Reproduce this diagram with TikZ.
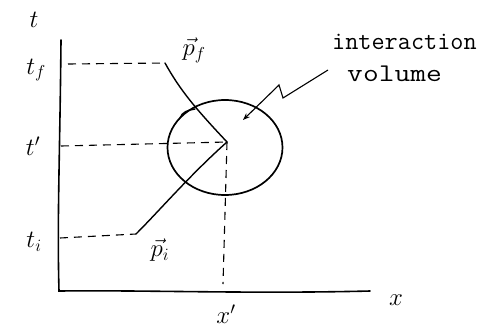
\documentclass[tikz,border=0pt]{standalone}
\usetikzlibrary{arrows.meta,shapes.geometric}
\begin{document}
\begin{tikzpicture}[x=1pt,y=-1pt,
  axis/.style={line width=1.6pt,line cap=round},
  guide/.style={line width=1.1pt,dash pattern=on 8pt off 6pt},
  track/.style={line width=1.4pt,line cap=round},
  lbl/.style={font=\fontsize{24}{28}\selectfont},
  note/.style={font=\fontsize{25.5}{28}\selectfont\ttfamily}]
\useasboundingbox (0,0) rectangle (484,330);
% axes
\coordinate (O) at (59,291);
\coordinate (tTop) at (61,40);
\coordinate (xEnd) at (370,291);
\draw[axis] (tTop) .. controls (60,150) and (57,220) .. (O) .. controls (150,290) and (250,294) .. (xEnd);
% labels
\node[lbl] (tlab) at (34,20) {$t$};
\node[lbl] (xlab) at (396,300) {$x$};
\node[lbl] (tf) at (36,70) {$t_f$};
\node[lbl] (tp) at (33,146) {$t'$};
\node[lbl] (ti) at (34,242) {$t_i$};
\node[lbl] (xp) at (226,314) {$x'$};
\node[lbl] (pf) at (194,50) {$\vec p_f$};
\node[lbl] (pi) at (160,250) {$\vec p_i$};
% key points
\coordinate (V) at (227,142);
\coordinate (F) at (165,63);
\coordinate (I) at (136,234);
\coordinate (tfA) at (68,64);
\coordinate (tpA) at (61,146);
\coordinate (tiA) at (60,238);
\coordinate (xpA) at (223,284);
% interaction volume
\node[draw,line width=1.7pt,ellipse,minimum width=115pt,minimum height=95pt,inner sep=0pt] (vol) at (225,147.5) {};
\draw[track] (180,118) .. controls (182,112) and (188,110) .. (195,109);
% tracks
\draw[track] (F) .. controls (180,90) and (195,108) .. (V);
\draw[track] (I) .. controls (160,210) and (190,175) .. (V);
% guides
\draw[guide] (tfA) -- (F);
\draw[guide] (tpA) -- (V);
\draw[guide] (tiA) -- (I);
\draw[guide] (V) -- (xpA);
% annotation
\node[note,anchor=west,inner sep=0pt] (iv1) at (332,42) {interaction};
\node[note,anchor=west,inner sep=0pt,xscale=1.2,transform shape] (iv2) at (347,74) {volume};
\coordinate (a0) at (328,70);
\draw[line width=1.1pt,-{Stealth[length=7pt]}] (a0) -- (283,98) -- (279,85) -- (243,120);
\end{tikzpicture}
\end{document}
